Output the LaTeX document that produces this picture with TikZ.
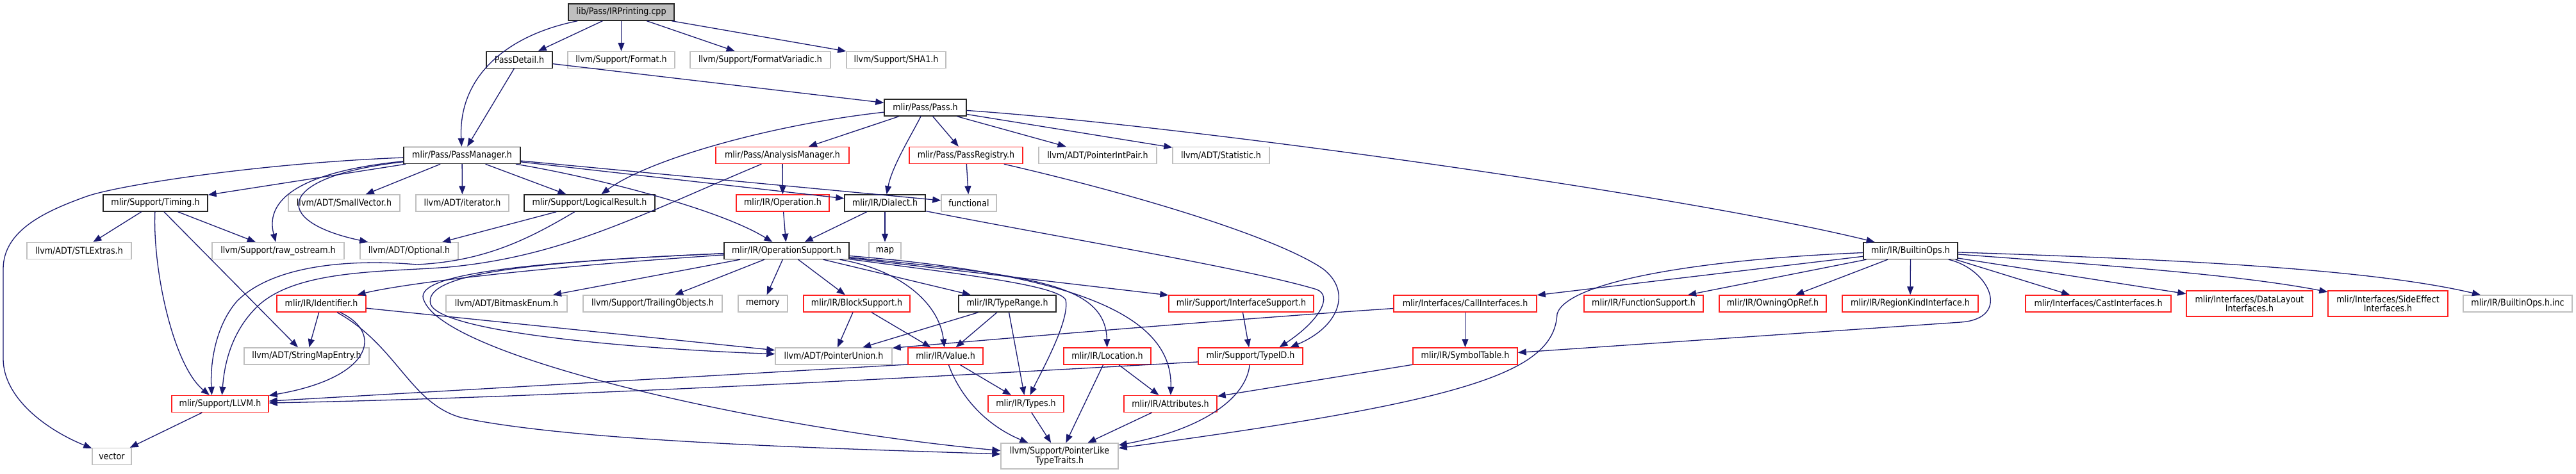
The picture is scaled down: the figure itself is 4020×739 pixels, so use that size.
\documentclass[tikz,border=0pt]{standalone}
\usepackage{fontspec}
\setmainfont{DejaVu Sans}[FakeStretch=0.88]
\usetikzlibrary{arrows.meta}
\definecolor{edgec}{HTML}{191970}
\definecolor{grayb}{HTML}{BFBFBF}
\definecolor{redb}{HTML}{FF2020}
\begin{document}
\begin{tikzpicture}[x=1pt,y=-1pt,
  box/.style={draw, rectangle, inner sep=0pt, line width=1.4pt, minimum height=26pt,
    font=\fontsize{14.4}{14.7}\selectfont, align=center, fill=white},
  bk/.style={box, draw=black!85},
  rd/.style={box, draw=redb},
  gy/.style={box, draw=grayb},
  e/.style={draw=edgec, line width=1.3pt, -{Triangle[length=13pt,width=10pt]}}]
\useasboundingbox (0,0) rectangle (4020,739);
% row 0-2
\node[bk, fill=grayb, minimum width=165pt] (root) at (969.5,19) {lib/Pass/IRPrinting.cpp};
\node[bk, minimum width=103pt] (passdetail) at (810.5,93.5) {PassDetail.h};
\node[gy, minimum width=167pt] (format) at (969.5,93.5) {llvm/Support/Format.h};
\node[gy, minimum width=219pt] (fvar) at (1186.5,93.5) {llvm/Support/FormatVariadic.h};
\node[gy, minimum width=155pt] (sha1) at (1398.5,93.5) {llvm/Support/SHA1.h};
\node[bk, minimum width=128pt] (pass) at (1444,168) {mlir/Pass/Pass.h};
% row 3
\node[bk, minimum width=182pt] (pm) at (721,242.5) {mlir/Pass/PassManager.h};
\node[rd, minimum width=208pt] (am) at (1221,242.5) {mlir/Pass/AnalysisManager.h};
\node[rd, minimum width=177pt] (preg) at (1507.5,242.5) {mlir/Pass/PassRegistry.h};
\node[gy, minimum width=184pt] (pip) at (1713,242.5) {llvm/ADT/PointerIntPair.h};
\node[gy, minimum width=151pt] (stat) at (1905.5,242.5) {llvm/ADT/Statistic.h};
% row 4
\node[bk, minimum width=163pt] (timing) at (242.5,317) {mlir/Support/Timing.h};
\node[gy, minimum width=174pt] (smallvec) at (537,317) {llvm/ADT/SmallVector.h};
\node[gy, minimum width=145pt] (iter) at (721.5,317) {llvm/ADT/iterator.h};
\node[bk, minimum width=204pt] (lres) at (920,317) {mlir/Support/LogicalResult.h};
\node[rd, minimum width=145pt] (op) at (1221.5,317) {mlir/IR/Operation.h};
\node[bk, minimum width=126pt] (dialect) at (1381,317) {mlir/IR/Dialect.h};
\node[gy, minimum width=86pt] (functional) at (1512,317) {functional};
% row 5
\node[gy, minimum width=163pt] (stl) at (123.5,391.5) {llvm/ADT/STLExtras.h};
\node[gy, minimum width=206pt] (rawos) at (434,391.5) {llvm/Support/raw\_ostream.h};
\node[gy, minimum width=153pt] (optional) at (638.5,391.5) {llvm/ADT/Optional.h};
\node[bk, minimum width=195pt] (opsup) at (1227.5,391.5) {mlir/IR/OperationSupport.h};
\node[gy, minimum width=50pt] (map) at (1381,391.5) {map};
\node[bk, minimum width=147pt] (builtin) at (2981.5,391.5) {mlir/IR/BuiltinOps.h};
% row 6
\node[rd, minimum width=139pt] (ident) at (501.5,474) {mlir/IR/Identifier.h};
\node[gy, minimum width=189pt] (bitmask) at (790.5,474) {llvm/ADT/BitmaskEnum.h};
\node[gy, minimum width=217pt] (trailing) at (1018.5,474) {llvm/Support/TrailingObjects.h};
\node[gy, minimum width=77pt] (memory) at (1190.5,474) {memory};
\node[rd, minimum width=166pt] (blocksup) at (1337,474) {mlir/IR/BlockSupport.h};
\node[bk, minimum width=152pt] (typerange) at (1572,474) {mlir/IR/TypeRange.h};
\node[rd, minimum width=226pt] (ifsup) at (1937,474) {mlir/Support/InterfaceSupport.h};
\node[rd, minimum width=223pt] (callif) at (2286.5,474) {mlir/Interfaces/CallInterfaces.h};
\node[rd, minimum width=186pt] (funcsup) at (2565,474) {mlir/IR/FunctionSupport.h};
\node[rd, minimum width=167pt] (owning) at (2766.5,474) {mlir/IR/OwningOpRef.h};
\node[rd, minimum width=212pt] (region) at (2981,474) {mlir/IR/RegionKindInterface.h};
\node[rd, minimum width=227pt] (castif) at (3274.5,474) {mlir/Interfaces/CastInterfaces.h};
\node[rd, minimum width=197pt, minimum height=40pt] (dlif) at (3510.5,474) {mlir/Interfaces/DataLayout\\Interfaces.h};
\node[rd, minimum width=187pt, minimum height=40pt] (seif) at (3726.5,474) {mlir/Interfaces/SideEffect\\Interfaces.h};
\node[gy, minimum width=170pt] (inc) at (3929,474) {mlir/IR/BuiltinOps.h.inc};
% row 7
\node[gy, minimum width=195pt] (smap) at (478.5,556) {llvm/ADT/StringMapEntry.h};
\node[gy, minimum width=182pt] (punion) at (1301,556) {llvm/ADT/PointerUnion.h};
\node[rd, minimum width=117pt] (value) at (1475.5,556) {mlir/IR/Value.h};
\node[rd, minimum width=136pt] (loc) at (1728,556) {mlir/IR/Location.h};
\node[rd, minimum width=163pt] (typeid) at (1951.5,556) {mlir/Support/TypeID.h};
\node[rd, minimum width=163pt] (symtab) at (2286.5,556) {mlir/IR/SymbolTable.h};
% row 8-9
\node[rd, minimum width=151pt] (llvmh) at (343.5,630.5) {mlir/Support/LLVM.h};
\node[rd, minimum width=118pt] (types) at (1601,630.5) {mlir/IR/Types.h};
\node[rd, minimum width=145pt] (attrs) at (1826.5,630.5) {mlir/IR/Attributes.h};
\node[gy, minimum width=61pt] (vector) at (174.5,712.5) {vector};
\node[gy, minimum width=183pt, minimum height=40pt] (pltt) at (1653.5,712) {llvm/Support/PointerLike\\TypeTraits.h};

% edges: root / PassDetail / Pass
\draw[e] (root) .. controls (790,55) and (715,120) .. (pm);
\draw[e] (root) -- (passdetail);
\draw[e] (root) -- (format);
\draw[e] (root) -- (fvar);
\draw[e] (root) -- (sha1);
\draw[e] (passdetail) -- (pm);
\draw[e] (passdetail) -- (pass);
\draw[e] (pass) .. controls (1200,195) and (1010,250) .. (lres);
\draw[e] (pass) -- (am);
\draw[e] (pass) .. controls (1420,215) and (1392,260) .. (dialect);
\draw[e] (pass) -- (preg);
\draw[e] (pass) -- (pip);
\draw[e] (pass) -- (stat);
\draw[e] (pass) .. controls (1850,196) and (2620,303) .. (builtin);
% PassManager
\draw[e] (pm) -- (timing);
\draw[e] (pm) -- (smallvec);
\draw[e] (pm) -- (iter);
\draw[e] (pm) -- (lres);
\draw[e] (pm) .. controls (920,275) and (1120,325) .. (opsup);
\draw[e] (pm) -- (dialect);
\draw[e] (pm) -- (functional);
\draw[e] (pm) .. controls (400,255) and (180,290) .. (134,307) .. controls (70,330) and (5,360) .. (5,420) -- (5,560) .. controls (5,620) and (70,670) .. (vector);
\draw[e] (pm) .. controls (450,270) and (415,320) .. (rawos);
\draw[e] (pm) .. controls (430,275) and (420,345) .. (optional);
% Timing
\draw[e] (timing) -- (stl);
\draw[e] (timing) .. controls (238,420) and (270,570) .. (llvmh);
\draw[e] (timing) -- (smap);
\draw[e] (timing) -- (rawos);
% LogicalResult, AnalysisManager, Operation, Dialect, PassRegistry
\draw[e] (lres) -- (optional);
\draw[e] (lres) .. controls (830,370) and (760,408) .. (650,413) .. controls (560,405) and (430,410) .. (370,470) .. controls (335,510) and (328,570) .. ([xshift=-13pt]llvmh.north);
\draw[e] (am) .. controls (1000,335) and (880,400) .. (700,417) .. controls (600,425) and (460,420) .. (400,480) .. controls (360,520) and (350,570) .. ([xshift=3pt]llvmh.north);
\draw[e] (am) -- (op);
\draw[e] (op) -- (opsup);
\draw[e] (dialect) -- (opsup);
\draw[e] (dialect) -- (map);
\draw[e] (dialect) .. controls (1650,370) and (1950,420) .. (2055,452) .. controls (2080,462) and (2060,500) .. ([xshift=45pt]typeid.north);
\draw[e] (preg) -- (functional);
\draw[e] (preg) .. controls (1800,310) and (2000,375) .. (2065,420) .. controls (2110,455) and (2090,510) .. ([xshift=62pt]typeid.north);
% Identifier
\draw[e] (ident) -- (smap);
\draw[e] (ident) .. controls (600,520) and (580,590) .. (llvmh);
\draw[e] (ident) -- (punion);
\draw[e] (ident) .. controls (620,540) and (640,630) .. (720,652) .. controls (900,690) and (1300,700) .. (pltt);
% OperationSupport
\draw[e] (opsup) .. controls (800,420) and (620,445) .. (ident);
\draw[e] (opsup) -- (bitmask);
\draw[e] (opsup) -- (trailing);
\draw[e] (opsup) -- (memory);
\draw[e] (opsup) -- (blocksup);
\draw[e] (opsup) .. controls (800,410) and (660,430) .. (672,475) .. controls (690,520) and (1000,545) .. (punion);
\draw[e] (opsup) .. controls (800,410) and (640,430) .. (662,470) .. controls (700,560) and (1200,670) .. (pltt);
\draw[e] (opsup) .. controls (1400,420) and (1465,470) .. (value);
\draw[e] (opsup) -- (typerange);
\draw[e] (opsup) .. controls (1500,428) and (1650,445) .. (1663,468) .. controls (1670,500) and (1625,580) .. (types);
\draw[e] (opsup) .. controls (1600,430) and (1725,440) .. (loc);
\draw[e] (opsup) .. controls (1700,430) and (1830,500) .. (attrs);
\draw[e] (opsup) -- (ifsup);
% lower levels
\draw[e] (llvmh) -- (vector);
\draw[e] (blocksup) -- (punion);
\draw[e] (blocksup) -- (value);
\draw[e] (typerange) -- (punion);
\draw[e] (typerange) -- (value);
\draw[e] (typerange) -- (types);
\draw[e] (value) -- (types);
\draw[e] (value) .. controls (1495,610) and (1530,660) .. (pltt);
\draw[e] ([yshift=-13pt]value.west) -- (llvmh);
\draw[e] ([yshift=-9pt]typeid.west) .. controls (1600,580) and (900,620) .. (llvmh);
\draw[e] (typeid) .. controls (1945,620) and (1880,670) .. (pltt);
\draw[e] (loc) -- (attrs);
\draw[e] (loc) -- (pltt);
\draw[e] (types) -- (pltt);
\draw[e] (attrs) -- (pltt);
\draw[e] (ifsup) -- (typeid);
\draw[e] (callif) -- (symtab);
\draw[e] (callif) .. controls (1900,500) and (1550,530) .. ([yshift=-1pt]punion.north east);
\draw[e] (symtab) -- (attrs);
% BuiltinOps
\draw[e] (builtin) -- (callif);
\draw[e] (builtin) -- (funcsup);
\draw[e] (builtin) -- (owning);
\draw[e] (builtin) -- (region);
\draw[e] (builtin) .. controls (3105,420) and (3140,497) .. (3060,503) -- (symtab);
\draw[e] ([xshift=-4pt]builtin.south east) -- (castif);
\draw[e] (builtin) -- (dlif);
\draw[e] (builtin) .. controls (3300,415) and (3500,430) .. (seif);
\draw[e] (builtin) .. controls (3400,405) and (3700,420) .. (inc);
\draw[e] (builtin) .. controls (2650,405) and (2445,440) .. (2430,490) .. controls (2425,580) and (2300,625) .. (pltt);
\end{tikzpicture}
\end{document}
